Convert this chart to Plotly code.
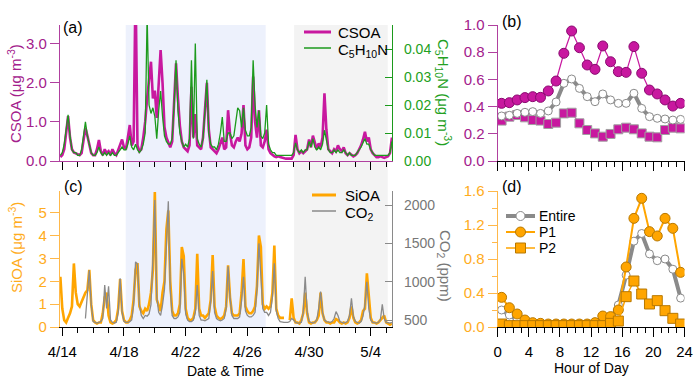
import plotly.graph_objects as go
import pandas as pd

# ---------------- data ----------------
START = "2018-04-13 21:00"   # first sample of the 3-hourly series
STEP = "3h"

csoa = [0.10,
        0.15, 0.30, 0.80, 1.15, 0.60, 0.30, 0.22, 0.20,
        0.18, 0.15, 0.20, 0.60, 0.85, 0.65, 0.40, 0.20,
        0.15, 0.15, 0.30, 0.54, 0.25, 0.15, 0.30, 0.20,
        0.25, 0.15, 0.30, 0.20, 0.15, 0.30, 0.45, 0.55,
        0.35, 0.30, 0.60, 0.92, 0.40, 0.50, 4.50, 0.40,
        0.25, 0.30, 0.60, 1.00, 1.60, 2.00, 2.54, 1.60,
        1.80, 1.10, 1.90, 2.84, 2.00, 0.87, 0.60, 0.45,
        0.35, 0.50, 1.50, 2.50, 1.60, 0.90, 0.50, 0.35,
        0.30, 0.25, 0.40, 1.90, 0.60, 1.20, 0.40, 0.35,
        0.30, 0.60, 1.40, 2.00, 0.80, 0.35, 0.30, 0.25,
        0.20, 0.30, 0.45, 0.60, 0.30, 0.35, 1.30, 0.70,
        0.40, 0.35, 0.50, 0.60, 0.50, 0.70, 1.43, 0.40,
        0.30, 0.35, 0.60, 2.16, 1.00, 0.60, 1.30, 0.40,
        0.35, 0.50, 0.80, 0.30, 0.20, 0.15, 0.12, 0.10,
        0.12, 0.10, 0.08, 0.06, 0.06, 0.06, 0.06, 0.06,
        0.15, 0.67, 0.30, 0.20, 0.25, 0.20, 0.25, 0.30,
        0.55, 0.35, 0.65, 0.45, 0.30, 0.45, 0.35, 0.60,
        1.73, 0.80, 0.30, 0.25, 0.20, 0.30, 0.25, 0.40,
        0.30, 0.25, 0.35, 0.20, 0.15, 0.20, 0.15, 0.12,
        0.15, 0.20, 0.30, 0.40, 0.55, 0.75, 0.50, 0.60,
        0.30, 0.20, 0.15, 0.10, 0.10, 0.12, 0.10, 0.08,
        0.10, 0.12, 0.20, 0.60]

c5h10n = [0.002,
          0.003, 0.006, 0.012, 0.0165, 0.009, 0.004, 0.003, 0.003,
          0.002, 0.002, 0.004, 0.010, 0.014, 0.009, 0.006, 0.003,
          0.002, 0.002, 0.003, 0.005, 0.003, 0.002, 0.003, 0.002,
          0.003, 0.002, 0.003, 0.002, 0.002, 0.003, 0.004, 0.005,
          0.004, 0.004, 0.006, 0.009, 0.005, 0.004, 0.006, 0.004,
          0.003, 0.004, 0.006, 0.010, 0.052, 0.020, 0.017, 0.019,
          0.016, 0.008, 0.018, 0.025, 0.016, 0.009, 0.007, 0.006,
          0.006, 0.008, 0.020, 0.036, 0.018, 0.010, 0.007, 0.005,
          0.006, 0.005, 0.008, 0.036, 0.008, 0.042, 0.008, 0.006,
          0.005, 0.008, 0.018, 0.029, 0.010, 0.006, 0.005, 0.005,
          0.004, 0.006, 0.010, 0.0157, 0.007, 0.007, 0.010, 0.010,
          0.008, 0.009, 0.014, 0.019, 0.018, 0.012, 0.019, 0.011,
          0.009, 0.009, 0.012, 0.036, 0.020, 0.012, 0.018, 0.009,
          0.008, 0.010, 0.020, 0.006, 0.004, 0.003, 0.003, 0.002,
          0.002, 0.002, 0.002, 0.002, 0.002, 0.002, 0.002, 0.002,
          0.003, 0.0065, 0.004, 0.003, 0.004, 0.003, 0.004, 0.004,
          0.007, 0.005, 0.008, 0.005, 0.004, 0.005, 0.004, 0.006,
          0.011, 0.007, 0.004, 0.003, 0.003, 0.004, 0.003, 0.004,
          0.003, 0.003, 0.004, 0.003, 0.002, 0.003, 0.002, 0.002,
          0.002, 0.003, 0.004, 0.005, 0.0065, 0.008, 0.006, 0.006,
          0.004, 0.003, 0.002, 0.002, 0.002, 0.002, 0.002, 0.002,
          0.002, 0.002, 0.003, 0.007]

sioa = [2.2,
        0.8, 0.3, 0.2, 0.4, 0.6, 0.9, 2.78, 1.5,
        1.0, 0.9, 1.1, 1.3, 1.5, 1.6, 2.5, 1.0,
        0.3, 0.2, 0.15, 0.2, 0.2, 0.6, 1.3, 1.5,
        0.5, 0.2, 0.15, 0.2, 0.3, 0.8, 2.1, 0.7,
        0.3, 0.2, 0.2, 0.3, 0.5, 1.2, 2.5, 2.8,
        0.9, 0.7, 0.6, 0.8, 0.7, 1.0, 1.5, 2.5,
        5.9, 1.2, 0.9, 0.7, 1.5, 2.0, 4.27, 5.1,
        2.0, 0.7, 0.5, 0.5, 0.6, 1.0, 3.5, 3.1,
        0.8, 0.4, 0.3, 0.3, 0.4, 0.8, 3.2, 0.8,
        0.5, 0.5, 0.4, 0.5, 0.6, 1.2, 3.15, 0.9,
        0.5, 0.4, 0.35, 0.4, 0.5, 0.9, 2.7, 1.3,
        0.6, 0.5, 0.5, 0.5, 0.6, 1.5, 2.97, 0.9,
        0.7, 0.6, 0.6, 0.7, 0.9, 1.8, 4.0, 3.5,
        1.0, 0.8, 0.9, 0.8, 0.9, 1.5, 3.56, 0.8,
        0.5, 0.4, 0.4, 0.4, None, None, 0.3, 1.25,
        0.4, 0.2, 0.2, 0.15, 0.3, 0.6, 1.5, 0.6,
        0.2, 0.15, 0.2, 0.2, 0.3, 0.5, 1.5, 0.6,
        0.3, 0.2, 0.2, 0.15, 0.2, 0.2, 0.35, 0.3,
        0.2, 0.15, 0.2, 0.15, 0.2, 0.4, 0.9, 0.4,
        0.2, 0.15, 0.2, 0.3, 0.7, 0.8, 2.35, 1.5,
        0.4, 0.2, 0.2, 0.15, 0.2, 0.3, 0.4, 0.5,
        0.2, 0.15, 0.1, 0.15]

co2 = [None,
       None, None, None, None, None, None, None, None,
       None, None, None, None, 520, 800, 1150, 700,
       480, 470, 460, 470, 480, 520, 957, 650,
       940, 500, 470, 460, 470, 600, 1044, 600,
       480, 470, 470, 480, 500, 700, 1260, 1230,
       700, 560, 520, 560, 550, 580, 700, 1300,
       2067, 800, 600, 560, 700, 900, 1400, 2050,
       900, 560, 520, 520, 540, 600, 1300, 1100,
       580, 500, 480, 480, 500, 600, 957, 560,
       500, 500, 490, 500, 520, 750, 1140, 600,
       520, 500, 490, 500, 520, 650, 1200, 800,
       560, 520, 520, 520, 540, 750, 1065, 620,
       560, 540, 540, 560, 600, 900, 1500, 1090,
       650, 600, 600, 560, 600, 800, 1240, 620,
       520, 480, 470, 470, 470, 470, 480, 520,
       500, 470, 460, 460, 470, 600, 1065, 620,
       480, 470, 460, 470, 500, 650, 870, 600,
       500, 480, 470, 470, 480, 520, 610, 560,
       480, 470, 460, 470, 480, 560, 783, 550,
       480, 470, 460, 480, 550, 700, 1000, 650,
       500, 470, 460, 460, 470, 500, 705, 520,
       470, 460, 460, 470]

P1_period = ["2018-04-18 02:40", "2018-04-27 04:30"]
P2_period = ["2018-04-29 00:45", "2018-05-05 02:30"]

hours = [0.5, 1.5, 2.5, 3.5, 4.5, 5.5, 6.5, 7.5, 8.5, 9.5, 10.5, 11.5,
         12.5, 13.5, 14.5, 15.5, 16.5, 17.5, 18.5, 19.5, 20.5, 21.5, 22.5, 23.5]

csoa_entire = [0.331, 0.336, 0.350, 0.358, 0.363, 0.350, 0.368, 0.434, 0.571, 0.603, 0.534, 0.473,
               0.436, 0.493, 0.449, 0.424, 0.424, 0.498, 0.387, 0.326, 0.314, 0.309, 0.301, 0.306]
csoa_p1 = [0.424, 0.429, 0.449, 0.466, 0.473, 0.468, 0.515, 0.588, 0.792, 0.956, 0.833, 0.706,
           0.674, 0.846, 0.730, 0.657, 0.652, 0.841, 0.645, 0.522, 0.493, 0.449, 0.404, 0.424]
csoa_p2 = [0.297, 0.326, 0.338, 0.321, 0.301, 0.297, 0.272, 0.282, 0.350, 0.355, 0.277, 0.228,
           0.203, 0.179, 0.199, 0.233, 0.245, 0.233, 0.203, 0.179, 0.174, 0.228, 0.245, 0.240]

sioa_entire = [0.20, 0.141, 0.082, 0.051, 0.035, 0.035, 0.035, 0.035, 0.035, 0.035, 0.035, 0.035,
               0.040, 0.063, 0.082, 0.259, 0.61, 1.01, 1.10, 0.86, 0.78, 0.80, 0.68, 0.34]
sioa_p1 = [0.349, 0.227, 0.153, 0.082, 0.051, 0.043, 0.035, 0.035, 0.035, 0.035, 0.035, 0.035,
           0.051, 0.129, 0.122, 0.20, 0.706, 1.278, 1.514, 1.122, 1.071, 1.278, 1.161, 0.643]
sioa_p2 = [0.035, 0.016, 0.016, 0.016, 0.016, 0.016, 0.016, 0.016, 0.016, 0.016, 0.016, 0.016,
           0.016, 0.016, 0.043, 0.070, 0.357, 0.541, 0.388, 0.271, 0.310, 0.192, 0.102, 0.035]

# ---------------- style ----------------
FONT = "Liberation Sans, Arial, sans-serif"
MAG = "#c8189f"
MAG_TXT = "#a3208c"
MAG_AX = "#b0409f"
MAG_EDGE = "#8a0a70"
GREEN = "#1c9a1c"
GREEN_TXT = "#22a022"
ORANGE = "#ffa500"
ORANGE_TXT = "#ffac1c"
ORANGE_AX = "#ffb84a"
ORANGE_EDGE = "#b87800"
GRAY = "#8a8a8a"
GRAY_TXT = "#777777"
W, H = 700, 381

times = pd.date_range(START, periods=len(csoa), freq=STEP)

XD_L = [60 / W, 392 / W]
XD_R = [497.7 / W, 684.5 / W]
YD_T = [1 - 161 / H, 1 - 25 / H]
YD_B = [1 - 327 / H, 1 - 191 / H]
XRANGE = ["2018-04-13 20:25", "2018-05-05 09:07"]
DAY = 86400000

fig = go.Figure()

# (a)
fig.add_trace(go.Scatter(x=times, y=csoa, name="CSOA", mode="lines",
                         line=dict(color=MAG, width=2.6), xaxis="x", yaxis="y"))
fig.add_trace(go.Scatter(x=times, y=c5h10n, name="C5H10N", mode="lines",
                         line=dict(color=GREEN, width=1.3), xaxis="x", yaxis="y2"))
# (c)
fig.add_trace(go.Scatter(x=times, y=sioa, name="SiOA", mode="lines", connectgaps=False,
                         line=dict(color=ORANGE, width=2.6), xaxis="x2", yaxis="y3"))
fig.add_trace(go.Scatter(x=times, y=co2, name="CO2", mode="lines", connectgaps=False,
                         line=dict(color=GRAY, width=1.3), xaxis="x2", yaxis="y4"))
# (b)
fig.add_trace(go.Scatter(x=hours, y=csoa_p2, mode="lines+markers", name="P2",
                         line=dict(color=MAG, width=1),
                         marker=dict(symbol="square", size=9, color=MAG, line=dict(color="#a0a0a0", width=1)),
                         xaxis="x3", yaxis="y5"))
fig.add_trace(go.Scatter(x=hours, y=csoa_entire, mode="lines+markers", name="Entire",
                         line=dict(color=GRAY, width=4),
                         marker=dict(symbol="circle", size=8, color="white", line=dict(color=GRAY, width=1)),
                         xaxis="x3", yaxis="y5"))
fig.add_trace(go.Scatter(x=hours, y=csoa_p1, mode="lines+markers", name="P1",
                         line=dict(color=MAG, width=1.2),
                         marker=dict(symbol="circle", size=10, color=MAG, line=dict(color=MAG_EDGE, width=1)),
                         xaxis="x3", yaxis="y5"))
# (d)
fig.add_trace(go.Scatter(x=hours, y=sioa_entire, name="Entire", mode="lines+markers",
                         line=dict(color=GRAY, width=4),
                         marker=dict(symbol="circle", size=8, color="white", line=dict(color=GRAY, width=1)),
                         xaxis="x4", yaxis="y6"))
fig.add_trace(go.Scatter(x=hours, y=sioa_p1, name="P1", mode="lines+markers",
                         line=dict(color=ORANGE, width=2),
                         marker=dict(symbol="circle", size=10, color=ORANGE, line=dict(color=ORANGE_EDGE, width=1)),
                         xaxis="x4", yaxis="y6"))
fig.add_trace(go.Scatter(x=hours, y=sioa_p2, name="P2", mode="lines+markers",
                         line=dict(color=ORANGE, width=1.5),
                         marker=dict(symbol="square", size=10, color=ORANGE, line=dict(color=ORANGE_EDGE, width=1)),
                         xaxis="x4", yaxis="y6"))


def yax(domain, rng, color, txt, **kw):
    d = dict(domain=domain, range=rng, showgrid=False, zeroline=False, showline=True,
             linecolor=color, linewidth=1.3, ticks="outside", ticklen=9, tickcolor=color,
             automargin=False, tickfont=dict(family=FONT, size=15, color=txt))
    d.update(kw)
    return d


def xdate(anchor, labels):
    return dict(domain=XD_L, anchor=anchor, type="date", range=XRANGE, showgrid=False,
                zeroline=False, showline=True, linecolor="black", linewidth=1.2,
                ticks="outside", ticklen=8, tickcolor="black", tick0="2018-04-14",
                dtick=4 * DAY, tickformat="%-m/%-d", showticklabels=labels, automargin=False,
                ticklabelstandoff=3,
                tickfont=dict(family=FONT, size=15, color="black"),
                minor=dict(ticks="outside", ticklen=5, dtick=DAY, tick0="2018-04-14",
                           tickcolor="black", showgrid=False))


def xhour(anchor, labels):
    return dict(domain=XD_R, anchor=anchor, range=[0, 24], showgrid=False, zeroline=False,
                showline=True, linecolor="black", linewidth=1.2, ticks="outside", ticklen=9,
                tickcolor="black", tick0=0, dtick=4, showticklabels=labels, automargin=False,
                ticklabelstandoff=2,
                tickfont=dict(family=FONT, size=15, color="black"),
                minor=dict(ticks="outside", ticklen=5, dtick=1, tickcolor="black", showgrid=False))


xa = xdate("y", False)
xa["linecolor"] = MAG_AX

fig.update_layout(
    width=W, height=H, margin=dict(l=0, r=0, t=0, b=0, pad=0, autoexpand=False),
    paper_bgcolor="white", plot_bgcolor="rgba(0,0,0,0)", showlegend=False,
    font=dict(family=FONT, size=14, color="black"),
    xaxis=xa,
    xaxis2=xdate("y3", True),
    xaxis3=xhour("y5", False),
    xaxis4=xhour("y6", True),
    yaxis=yax(YD_T, [0, 3.48], MAG_AX, MAG_TXT, tickvals=[0, 1, 2, 3], tickformat=".1f"),
    yaxis2=yax(YD_T, [0, 0.0486], GREEN, GREEN_TXT, overlaying="y", anchor="x", side="right",
               ticks="inside", ticklen=7, ticklabelstandoff=8,
               tickvals=[0, 0.01, 0.02, 0.03, 0.04], tickformat=".2f",
               tickfont=dict(family=FONT, size=14, color=GREEN_TXT)),
    yaxis3=yax(YD_B, [0, 5.95], ORANGE_AX, ORANGE_TXT, anchor="x2", tickvals=[0, 1, 2, 3, 4, 5]),
    yaxis4=yax(YD_B, [409, 2184], GRAY, GRAY_TXT, overlaying="y3", anchor="x2", side="right",
               ticks="inside", ticklen=7, ticklabelstandoff=8, tickvals=[500, 1000, 1500, 2000],
               tickfont=dict(family=FONT, size=14, color=GRAY_TXT)),
    yaxis5=yax(YD_T, [0, 1.0], MAG_AX, MAG_TXT, anchor="x3", dtick=0.2, tickformat=".1f"),
    yaxis6=yax(YD_B, [0, 1.6], ORANGE_AX, ORANGE_TXT, anchor="x4", dtick=0.4, tickformat=".1f",
               minor=dict(ticks="outside", ticklen=5, dtick=0.2, tickcolor=ORANGE_AX, showgrid=False)),
)

# shaded periods spanning panels (a) and (c)
for per, col in ((P1_period, "#edf1fc"), (P2_period, "#f3f3f3")):
    fig.add_shape(type="rect", xref="x", yref="paper", x0=per[0], x1=per[1],
                  y0=YD_B[0], y1=YD_T[1], fillcolor=col, line=dict(width=0), layer="below")


def ann(text, x, y, color="black", size=15, angle=0, xanchor="center"):
    fig.add_annotation(text=text, x=x / W, y=1 - y / H, xref="paper", yref="paper",
                       showarrow=False, textangle=angle, xanchor=xanchor, yanchor="middle",
                       font=dict(family=FONT, size=size, color=color))


def leg_line(x0, x1, y, color, width):
    fig.add_shape(type="line", xref="paper", yref="paper", x0=x0 / W, x1=x1 / W,
                  y0=1 - y / H, y1=1 - y / H, line=dict(color=color, width=width))


def leg_marker(cx, cy, size, kind, fill, edge):
    r = size / 2
    fig.add_shape(type="circle" if kind == "circle" else "rect", xref="paper", yref="paper",
                  x0=(cx - r) / W, x1=(cx + r) / W, y0=1 - (cy + r) / H, y1=1 - (cy - r) / H,
                  fillcolor=fill, line=dict(color=edge, width=1))


# legend (a)
leg_line(304, 331, 32, MAG, 3)
ann("CSOA", 336, 32, size=15, xanchor="left")
leg_line(304, 331, 48, GREEN, 1.5)
ann("C<sub>5</sub>H<sub>10</sub>N", 336, 50, size=15, xanchor="left")
# legend (c)
leg_line(312, 336, 195, ORANGE, 3)
ann("SiOA", 343, 195, size=15, xanchor="left")
leg_line(312, 336, 211, GRAY, 1.5)
ann("CO<sub>2</sub>", 343, 213, size=15, xanchor="left")
# legend (d)
leg_line(506, 535, 216, GRAY, 4)
leg_marker(520.5, 216, 9, "circle", "white", GRAY)
ann("Entire", 537, 216, size=14, xanchor="left")
leg_line(506, 535, 232, ORANGE, 2)
leg_marker(520.5, 232, 10, "circle", ORANGE, ORANGE_EDGE)
ann("P1", 537, 232, size=14, xanchor="left")
leg_line(506, 535, 248, ORANGE, 1.5)
leg_marker(520.5, 248, 10, "rect", ORANGE, ORANGE_EDGE)
ann("P2", 537, 248, size=14, xanchor="left")

ann("(a)", 61, 28, size=16, xanchor="left")
ann("(b)", 500, 21, size=16, xanchor="left")
ann("(c)", 62, 186, size=16, xanchor="left")
ann("(d)", 500, 186, size=16, xanchor="left")
ann("CSOA (μg m<sup>-3</sup>)", 15, 94, MAG_TXT, 15, -90)
ann("SiOA (μg m<sup>-3</sup>)", 15, 248, ORANGE_TXT, 15, -90)
ann("C<sub>5</sub>H<sub>10</sub>N (μg m<sup>-3</sup>)", 443, 92, GREEN_TXT, 15, 90)
ann("CO<sub>2</sub> (ppm)", 445, 266, GRAY_TXT, 15, 90)
ann("Date & Time", 225, 371, "black", 14)
ann("Hour of Day", 591, 368, "black", 14)

fig.write_html("out.html", config={"displayModeBar": False},
               post_script="document.body.style.margin='0px';")
